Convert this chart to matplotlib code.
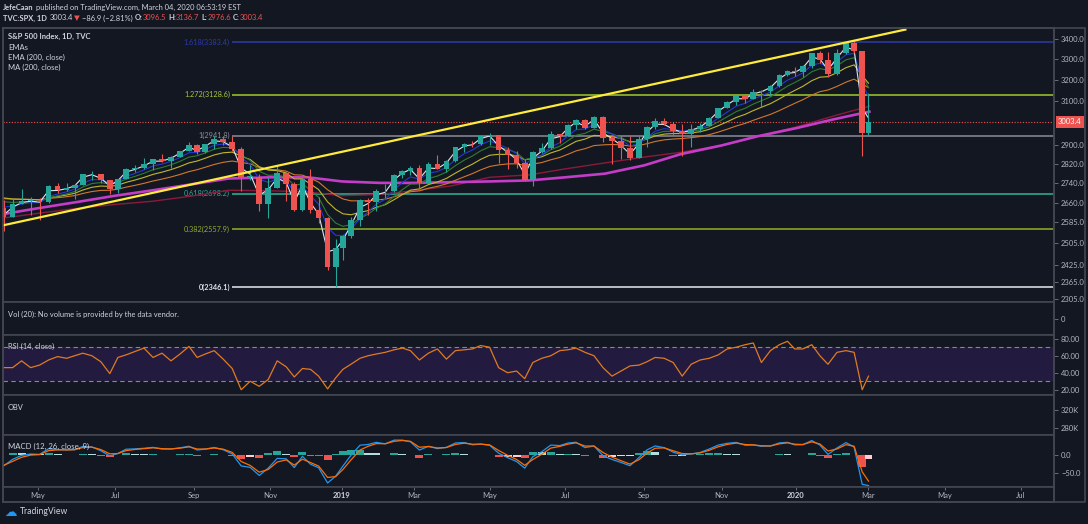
import numpy as np
import pandas as pd
import matplotlib
matplotlib.use('Agg')
import matplotlib.pyplot as plt
import matplotlib.transforms as mtransforms
from matplotlib.ticker import NullLocator, NullFormatter

plt.rcParams['font.family'] = ['Lato', 'DejaVu Sans']

W, H = 1088, 524
BG = '#131722'
EDGE = '#434651'
TXT = '#b2b5be'
WHITE = '#d1d4dc'
RED = '#ef5350'
GREEN = '#26a69a'

# ---------------- data ----------------
nyse_holidays = ['2018-05-28', '2018-07-04', '2018-09-03', '2018-11-22', '2018-12-05', '2018-12-25',
                 '2019-01-01', '2019-01-21', '2019-02-18', '2019-04-19', '2019-05-27', '2019-07-04',
                 '2019-09-02', '2019-11-28', '2019-12-25', '2020-01-01', '2020-01-20', '2020-02-17',
                 '2020-04-10', '2020-05-25', '2020-07-03', '2020-09-07']
first_week = '2018-04-02'
last_day = '2020-03-03'

# weekly closes Oct 2017 - Mar 2018 (only used to start the averages)
warm_close = [2549, 2553, 2575, 2581, 2588, 2582, 2579, 2602, 2642, 2651, 2675, 2683, 2674,
              2743, 2786, 2810, 2873, 2762, 2620, 2732, 2747, 2691, 2786, 2752, 2588, 2640]

# weekly candles, week of 2018-04-02 ... week of 2020-03-02
week_close = [2604, 2656, 2670, 2670, 2663, 2728, 2712, 2721, 2735, 2779, 2780, 2755, 2718,
              2760, 2801, 2802, 2819, 2840, 2833, 2850, 2875, 2902, 2872, 2904, 2930, 2914,
              2885, 2767, 2768, 2658, 2723, 2781, 2736, 2633, 2760, 2633, 2600, 2417, 2486,
              2532, 2596, 2671, 2665, 2707, 2708, 2776, 2793, 2804, 2743, 2822, 2800, 2834,
              2893, 2907, 2905, 2940, 2946, 2881, 2860, 2826, 2752, 2873, 2887, 2950, 2942,
              2990, 3014, 2977, 3026, 2932, 2919, 2889, 2847, 2926, 2979, 3007, 2992, 2962,
              2952, 2970, 2986, 3023, 3067, 3093, 3120, 3110, 3141, 3146, 3169, 3221, 3240,
              3235, 3265, 3330, 3295, 3226, 3328, 3380, 3338, 2954, 3003.4]
week_high = [2672, 2680, 2718, 2683, 2682, 2732, 2742, 2742, 2736, 2779, 2790, 2774, 2752,
             2760, 2804, 2816, 2848, 2841, 2863, 2853, 2877, 2916, 2907, 2906, 2940, 2939,
             2940, 2894, 2817, 2779, 2766, 2815, 2781, 2746, 2760, 2800, 2685, 2607, 2520,
             2538, 2604, 2675, 2681, 2716, 2738, 2780, 2795, 2814, 2816, 2830, 2860, 2838,
             2893, 2910, 2918, 2940, 2954, 2932, 2892, 2876, 2840, 2876, 2910, 2964, 2951,
             2996, 3017, 3018, 3028, 3028, 2945, 2943, 2939, 2940, 2985, 3021, 3022, 3002,
             2993, 2993, 3000, 3027, 3067, 3097, 3120, 3127, 3154, 3150, 3176, 3226, 3248,
             3259, 3268, 3330, 3338, 3333, 3347, 3385, 3393, 3260, 3137]
week_low = [2553, 2605, 2660, 2613, 2594, 2660, 2701, 2707, 2676, 2737, 2755, 2742, 2698,
            2699, 2757, 2789, 2800, 2794, 2830, 2802, 2850, 2874, 2864, 2868, 2884, 2903,
            2874, 2710, 2755, 2628, 2603, 2722, 2670, 2631, 2631, 2621, 2583, 2409, 2346,
            2444, 2525, 2570, 2612, 2631, 2682, 2704, 2764, 2775, 2723, 2740, 2800, 2785,
            2830, 2873, 2891, 2900, 2900, 2825, 2801, 2805, 2750, 2729, 2868, 2883, 2912,
            2940, 2970, 2972, 2978, 2914, 2822, 2840, 2836, 2855, 2892, 2971, 2990, 2946,
            2855, 2892, 2957, 2992, 3023, 3066, 3079, 3091, 3113, 3070, 3123, 3166, 3218,
            3215, 3214, 3256, 3280, 3214, 3224, 3326, 3328, 2855, 2946]

rsi_week = [46, 46, 54, 46, 49, 55, 59, 57, 60, 63,
            60, 53, 39, 58, 61, 65, 69, 58, 63, 54,
            62, 71, 58, 62, 66, 56, 45, 20, 30, 24,
            32, 54, 47, 35, 45, 44, 36, 21, 34, 44,
            50, 57, 60, 62, 64, 67, 69, 66, 55, 63,
            68, 56, 66, 67, 68, 72, 70, 46, 40, 42,
            33, 52, 57, 60, 66, 67, 69, 64, 60, 46,
            36, 42, 48, 49, 53, 58, 57, 52, 36, 50,
            55, 57, 61, 68, 70, 73, 75, 52, 66, 73,
            77, 68, 68, 73, 60, 50, 64, 66, 64, 20,
            36]

# monthly readings of the two 200-day averages, Apr 2018 ... Mar 2020
ma200 = [2615, 2640, 2665, 2690, 2712, 2738, 2760, 2765, 2765, 2748, 2742, 2742,
         2745, 2748, 2752, 2765, 2780, 2815, 2862, 2900, 2940, 2975, 3015, 3050]
ema200 = [2600, 2620, 2640, 2655, 2668, 2690, 2712, 2710, 2705, 2690, 2695, 2710,
          2730, 2765, 2775, 2800, 2825, 2850, 2870, 2900, 2940, 2980, 3030, 3075]

ribbon_periods = [100, 55, 34, 21, 8]
ribbon_colors = ['#d2782a', '#c0b72c', '#2e7d32', '#2438d6', '#dfe3ea']

fib_ratio = ['1.618', '1.272', '1', '0.618', '0.382', '0']
fib_price = [3383.4, 3128.6, 2941.8, 2698.2, 2557.9, 2346.1]
fib_line_colors = ['#283593', '#8cb02a', '#787b86', '#2a9d86', '#7d9a24', '#c8cad0']
fib_text_colors = ['#2c3aa6', '#a6c53b', '#8a8d96', '#2fa88e', '#8fac2e', '#e0e3eb']
fib_start = '2018-10-03'

trend_dates = ['2018-04-02', '2020-03-31']
trend_price = [2571, 3448]

last_price = 3003.4
price_ticks = [3400, 3300, 3200, 3100, 2900, 2820, 2740, 2660, 2585, 2505, 2425, 2365, 2305]

month_ticks = ['2018-05', '2018-07', '2018-09', '2018-11', '2019-01', '2019-03', '2019-05',
               '2019-07', '2019-09', '2019-11', '2020-01', '2020-03', '2020-05', '2020-07']
month_labels = ['May', 'Jul', 'Sep', 'Nov', '2019', 'Mar', 'May', 'Jul', 'Sep', 'Nov',
                '2020', 'Mar', 'May', 'Jul']

# ---------------- trading-day axis ----------------
days = pd.bdate_range('2018-04-02', '2020-09-30', freq='C', holidays=nyse_holidays)


def idx_of(d):
    return int(np.searchsorted(days, pd.Timestamp(d)))


nw = len(week_close)
mondays = pd.date_range(first_week, periods=nw, freq='7D')
week_x = []
for m in mondays:
    sel = (days >= m) & (days < m + pd.Timedelta(days=5)) & (days <= pd.Timestamp(last_day))
    week_x.append(np.flatnonzero(sel).mean())
week_x = np.array(week_x)
week_open = [warm_close[-1]] + week_close[:-1]

closes = pd.Series(warm_close + week_close, dtype=float)


def ema(s, n):
    # daily EMA length converted to weekly bars
    a = 1 - (1 - 2 / (n + 1)) ** 5
    return s.ewm(alpha=a, adjust=False).mean()


macd_all = ema(closes, 12) - ema(closes, 26)
sig_all = ema(macd_all, 9)
macd = macd_all.values[-nw:]
sig = sig_all.values[-nw:]
hist = macd - sig

ma_x = [idx_of(d) for d in pd.date_range('2018-04-01', periods=len(ma200), freq='MS')]
ma_x[-1] = idx_of(last_day)

PX = 1.8
xlim = (3 / PX, 1054 / PX)

# ---------------- figure ----------------
fig = plt.figure(figsize=(W / 100, H / 100), dpi=100, facecolor=BG)


def pane(y0, y1):
    ax = fig.add_axes([3 / W, 1 - y1 / H, 1051 / W, (y1 - y0) / H])
    ax.set_facecolor(BG)
    ax.set_xlim(*xlim)
    for s in ax.spines.values():
        s.set_color(EDGE)
        s.set_linewidth(1.2)
    ax.tick_params(axis='x', bottom=False, labelbottom=False)
    ax.yaxis.tick_right()
    ax.tick_params(axis='y', colors='#787b86', labelcolor=TXT, labelsize=5.5, length=3, pad=2, width=0.6)
    return ax


# main price pane
ax = pane(28, 302)
ax.set_yscale('log')
ax.set_ylim(2295, 3456)
ax.yaxis.set_minor_locator(NullLocator())
ax.yaxis.set_minor_formatter(NullFormatter())
ax.set_yticks(price_ticks)
ax.set_yticklabels([f'{v:.1f}' for v in price_ticks])

fx = idx_of(fib_start)
for r, p, lc, tc in zip(fib_ratio, fib_price, fib_line_colors, fib_text_colors):
    ax.hlines(p, fx, xlim[1], color=lc, lw=1.3, zorder=2)
    ax.text(fx - 1.2, p, f'{r}({p:.1f})', color=tc, fontsize=5.3, ha='right', va='center',
            fontweight='bold' if r == '0' else 'normal', zorder=2)

ax.axhline(last_price, color=RED, lw=0.8, ls=(0, (1, 1.5)), zorder=2)

ax.plot(ma_x, ema200, color='#8b1a3c', lw=1.0, zorder=3)
ax.plot(ma_x, ma200, color='#c43cc8', lw=1.9, zorder=3)
for p, c in zip(ribbon_periods, ribbon_colors):
    ax.plot(week_x, ema(closes, p).values[-nw:], color=c, lw=0.8, zorder=3)

up = np.array(week_close) >= np.array(week_open)
cols = np.where(up, GREEN, RED)
lo = np.minimum.reduce([week_low, week_open, week_close])
hi = np.maximum.reduce([week_high, week_open, week_close])
ax.vlines(week_x, lo, hi, colors=cols, lw=0.8, zorder=4)
body_lo = np.minimum(week_open, week_close)
body_h = np.maximum(np.abs(np.array(week_close) - np.array(week_open)), 1.5)
ax.bar(week_x, body_h, bottom=body_lo, width=3.2, color=cols, zorder=4, linewidth=0)

ax.plot([idx_of(d) for d in trend_dates], trend_price, color='#ffeb3b', lw=1.6, zorder=5)

ax.annotate(f'{last_price:.1f}', xy=(1, last_price), xycoords=('axes fraction', 'data'),
            xytext=(3, 0), textcoords='offset points', ha='left', va='center', fontsize=5.5,
            color='white', bbox=dict(boxstyle='square,pad=0.3', fc=RED, ec='none'),
            annotation_clip=False)

# volume pane
axv = pane(302, 335)
axv.set_ylim(-16, 17)
axv.set_yticks([0])
axv.set_yticklabels(['0'])

# RSI pane
axr = pane(335, 395)
axr.set_ylim(13.8, 84.4)
axr.axhspan(30, 70, color='#231a3f', lw=0, zorder=1)
for lvl in (70, 30):
    axr.axhline(lvl, color='#868993', lw=0.8, ls=(0, (4, 3)), zorder=2)
axr.plot(week_x, rsi_week, color='#e07b20', lw=0.9, zorder=3)
axr.set_yticks([20, 40, 60, 80])
axr.set_yticklabels([f'{v:.2f}' for v in [20, 40, 60, 80]])

# OBV pane
axo = pane(395, 435)
axo.set_ylim(264400, 353300)
axo.set_yticks([280000, 320000])
axo.set_yticklabels(['280K', '320K'])

# MACD pane
axm = pane(435, 487)
axm.set_ylim(-88.3, 53.8)
dh = np.diff(np.concatenate([[hist[0]], hist]))
hcol = np.where(hist >= 0, np.where(dh >= 0, '#26a69a', '#b2dfdb'), np.where(dh <= 0, '#ef5350', '#ffcdd2'))
axm.bar(week_x, hist, width=4.4, color=hcol, linewidth=0, zorder=2)
axm.plot(week_x, macd, color='#2196f3', lw=0.9, zorder=3)
axm.plot(week_x, sig, color='#ff6d00', lw=0.9, zorder=3)
axm.set_yticks([0, -50])
axm.set_yticklabels(['0.0', '\u221250.0'])

# time axis
axt = pane(487, 502)
axt.set_ylim(0, 1)
axt.set_yticks([])
tick_x = [idx_of(m + '-01') for m in month_ticks]
axt.set_xticks(tick_x)
axt.tick_params(axis='x', top=True, bottom=False, labelbottom=False, direction='in', length=2.5,
                color='#787b86', width=0.6)
tr = mtransforms.blended_transform_factory(axt.transData, axt.transAxes)
for x, lab in zip(tick_x, month_labels):
    axt.text(x, 0.42, lab, transform=tr, ha='center', va='center', fontsize=5.5,
             color=WHITE if lab.isdigit() else TXT, fontweight='bold' if lab.isdigit() else 'normal')

# overlay for texts and frame, pixel coordinates
top = fig.add_axes([0, 0, 1, 1])
top.set_xlim(0, W)
top.set_ylim(H, 0)
top.axis('off')
top.set_zorder(20)
top.patch.set_alpha(0)

top.plot([3, 1085, 1085, 3, 3], [28, 28, 502, 502, 28], color=EDGE, lw=1.2)
top.plot([1054, 1054], [28, 502], color=EDGE, lw=1.2)


def chain(parts, x, y, size):
    prev = None
    for s, color, bold, gap in parts:
        kw = dict(color=color, fontsize=size, fontweight='bold' if bold else 'normal', va='center')
        if prev is None:
            prev = top.text(x, y, s, ha='left', **kw)
        else:
            prev = top.annotate(s, xy=(1, 0.5), xycoords=prev, xytext=(gap, 0),
                                textcoords='offset points', ha='left', **kw)


chain([('JefeCaan', WHITE, True, 0),
       ('published on TradingView.com, March 04, 2020 06:53:19 EST', WHITE, False, 1.5)], 3, 7, 5.4)
chain([('TVC:SPX, 1D', WHITE, True, 0), ('3003.4', WHITE, False, 2.0), ('\u25bc', RED, False, 1.0),
       ('\u221286.9 (\u22122.81%)', WHITE, False, 1.0), ('O:', WHITE, True, 1.6), ('3096.5', RED, False, 0.2),
       ('H:', WHITE, True, 1.4), ('3136.7', RED, False, 0.2), ('L:', WHITE, True, 1.4),
       ('2976.6', RED, False, 0.2), ('C:', WHITE, True, 1.4), ('3003.4', RED, False, 0.2)], 3, 18, 5.4)

top.text(8, 36, 'S&P 500 Index, 1D, TVC', color=WHITE, fontsize=5.5, fontweight='bold', va='center')
for yy, s in [(47, 'EMAs'), (57, 'EMA (200, close)'), (67.5, 'MA (200, close)')]:
    top.text(8, yy, s, color=WHITE, fontsize=5.5, va='center')
top.text(8, 314, 'Vol (20): No volume is provided by the data vendor.', color=WHITE, fontsize=5.4, va='center')
top.text(8, 346, 'RSI (14, close)', color=WHITE, fontsize=5.4, va='center')
top.text(8, 407, 'OBV', color=WHITE, fontsize=5.4, va='center')
top.text(8, 446, 'MACD (12, 26, close, 9)', color=WHITE, fontsize=5.6, va='center')

top.text(4, 512, '\u2601', color='#2196f3', fontsize=9, va='center', family='DejaVu Sans')
top.text(20, 512, 'TradingView', color=WHITE, fontsize=6.2, va='center')

fig.savefig('out.png', dpi=100, facecolor=BG)
